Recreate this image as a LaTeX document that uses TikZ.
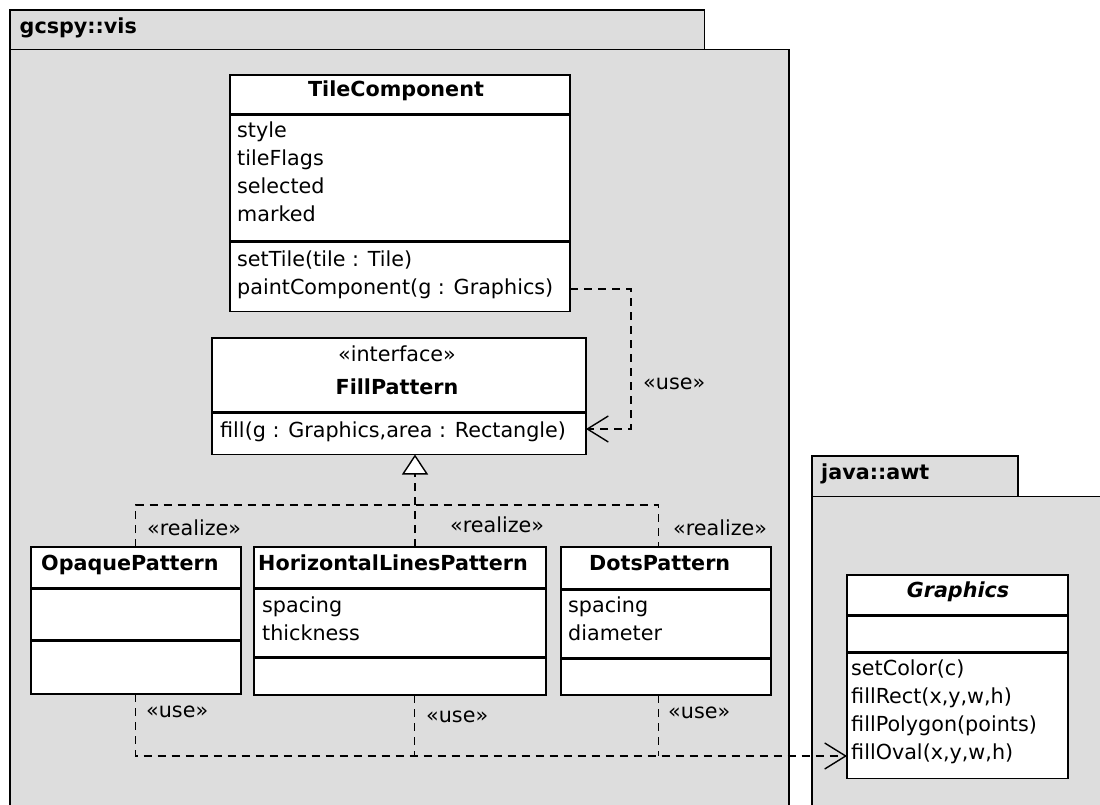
\documentclass[tikz,border=0pt]{standalone}
\usepackage{fontspec}
\setmainfont{DejaVu Sans}
\usetikzlibrary{arrows.meta}
\definecolor{pkgfill}{RGB}{221,221,221}
\tikzset{
  pkg/.style={draw=black, line width=1.6pt, fill=pkgfill},
  pkgname/.style={anchor=base west, inner sep=0pt, font=\fontsize{20.7}{25}\selectfont\bfseries},
  cls/.style={draw=black, line width=1.6pt, fill=white, rectangle, inner sep=0pt, outer sep=0pt, anchor=north west},
  compsep/.style={line width=3pt},
  member/.style={anchor=base west, inner sep=0pt, font=\fontsize{20.7}{25}\selectfont},
  ctitle/.style={inner sep=0pt, font=\fontsize{20.7}{25}\selectfont\bfseries},
  dep/.style={line width=1.4pt, dash pattern=on 8pt off 6pt},
  useto/.style={-{Straight Barb[length=21pt, width=26pt, line width=1.4pt]}},
  realizeto/.style={-{Triangle[length=20pt, width=26pt, fill=white, line width=1.4pt]}},
}
\begin{document}
\begin{tikzpicture}[x=1pt, y=-1pt]
\useasboundingbox (0,0) rectangle (1100,805);
\clip (0,0) rectangle (1100,805);

% packages
\draw[pkg] (10,49.5) rectangle (789,820);
\draw[pkg] (10,10) rectangle (704.5,49.5);
\node[pkgname] (gcspy) at (19.5,33.5) {gcspy::vis};
\draw[pkg] (812,496.5) rectangle (1115,820);
\draw[pkg] (812,456) rectangle (1018,496.5);
\node[pkgname] (awt) at (821,479) {java::awt};

% TileComponent
\node[cls, minimum width=340pt, minimum height=236.5pt] (tile) at (230,75) {};
\draw[compsep] (tile.west |- 0,115) -- (tile.east |- 0,115);
\draw[compsep] (tile.west |- 0,241.5) -- (tile.east |- 0,241.5);
\node[ctitle, anchor=base] (tiletitle) at (396,97) {TileComponent};
\foreach \t [count=\i from 0] in {style,tileFlags,selected,marked}
  \node[member] (tileattr\i) at (237,138+28*\i) {\t};
\node[member] (tileop0) at (237,266.5) {setTile(tile : Tile)};
\node[member] (tileop1) at (237,294) {paintComponent(g : Graphics)};

% FillPattern
\node[cls, minimum width=374pt, minimum height=116.5pt] (fill) at (212,338) {};
\draw[compsep] (fill.west |- 0,412) -- (fill.east |- 0,412);
\node[member, anchor=base] (fillstereo) at (397,361) {«interface»};
\node[ctitle, anchor=base] (filltitle) at (397,394) {FillPattern};
\node[member] (fillop) at (220,437) {fill(g : Graphics,area : Rectangle)};

% OpaquePattern
\node[cls, minimum width=210pt, minimum height=147pt] (opaque) at (31,547) {};
\draw[compsep] (opaque.west |- 0,588) -- (opaque.east |- 0,588);
\draw[compsep] (opaque.west |- 0,640) -- (opaque.east |- 0,640);
\node[ctitle, anchor=base west] (opaquetitle) at (41,570) {OpaquePattern};

% HorizontalLinesPattern
\node[cls, minimum width=292pt, minimum height=148pt] (hlp) at (254,547) {};
\draw[compsep] (hlp.west |- 0,588.5) -- (hlp.east |- 0,588.5);
\draw[compsep] (hlp.west |- 0,657.5) -- (hlp.east |- 0,657.5);
\node[ctitle, anchor=base west] (hlptitle) at (258,570) {HorizontalLinesPattern};
\node[member] (hlpattr0) at (262,612) {spacing};
\node[member] (hlpattr1) at (262,640) {thickness};

% DotsPattern
\node[cls, minimum width=210pt, minimum height=148pt] (dots) at (561,547) {};
\draw[compsep] (dots.west |- 0,589) -- (dots.east |- 0,589);
\draw[compsep] (dots.west |- 0,658.5) -- (dots.east |- 0,658.5);
\node[ctitle, anchor=base west] (dotstitle) at (589,570) {DotsPattern};
\node[member] (dotsattr0) at (568,612) {spacing};
\node[member] (dotsattr1) at (568,640) {diameter};

% Graphics
\node[cls, minimum width=221pt, minimum height=203.5pt] (gfx) at (847,575) {};
\draw[compsep] (gfx.west |- 0,615) -- (gfx.east |- 0,615);
\draw[compsep] (gfx.west |- 0,652.5) -- (gfx.east |- 0,652.5);
\node[ctitle, anchor=base, font=\fontsize{20.7}{25}\selectfont\bfseries\itshape] (gfxtitle) at (958,597) {Graphics};
\foreach \t [count=\i from 0] in {{setColor(c)},{fillRect(x,y,w,h)},{fillPolygon(points)},{fillOval(x,y,w,h)}}
  \node[member] (gfxop\i) at (851,675.5+28*\i) {\t};

% TileComponent uses FillPattern
\coordinate (ubend) at (631,0);
\draw[dep, useto] (tile.east |- 0,289) -| (ubend |- 0,429) -- (fill.east |- 0,429);
\node[member] (uselbl0) at (643,389) {«use»};

% realizations of FillPattern
\coordinate (rj1) at (135.5,505);
\coordinate (rj2) at (415,505);
\coordinate (rj3) at (658.5,505);
\draw[dep] (rj1 |- opaque.north) -- (rj1) -- (rj3) -- (rj3 |- dots.north);
\draw[dep, realizeto] (rj2 |- hlp.north) -- (rj2 |- fill.south);
\node[member] (rlbl1) at (147,535) {«realize»};
\node[member] (rlbl2) at (450,532) {«realize»};
\node[member] (rlbl3) at (673,535) {«realize»};

% patterns use Graphics
\coordinate (uj1) at (135.5,756);
\coordinate (uj2) at (414.5,756);
\coordinate (uj3) at (658.5,756);
\draw[dep, useto] (uj1 |- opaque.south) -- (uj1) -- (uj1 -| gfx.west);
\draw[dep] (uj2 |- hlp.south) -- (uj2);
\draw[dep] (uj3 |- dots.south) -- (uj3);
\node[member] (ulbl1) at (146,717) {«use»};
\node[member] (ulbl2) at (426,722) {«use»};
\node[member] (ulbl3) at (668,718) {«use»};
\end{tikzpicture}
\end{document}
